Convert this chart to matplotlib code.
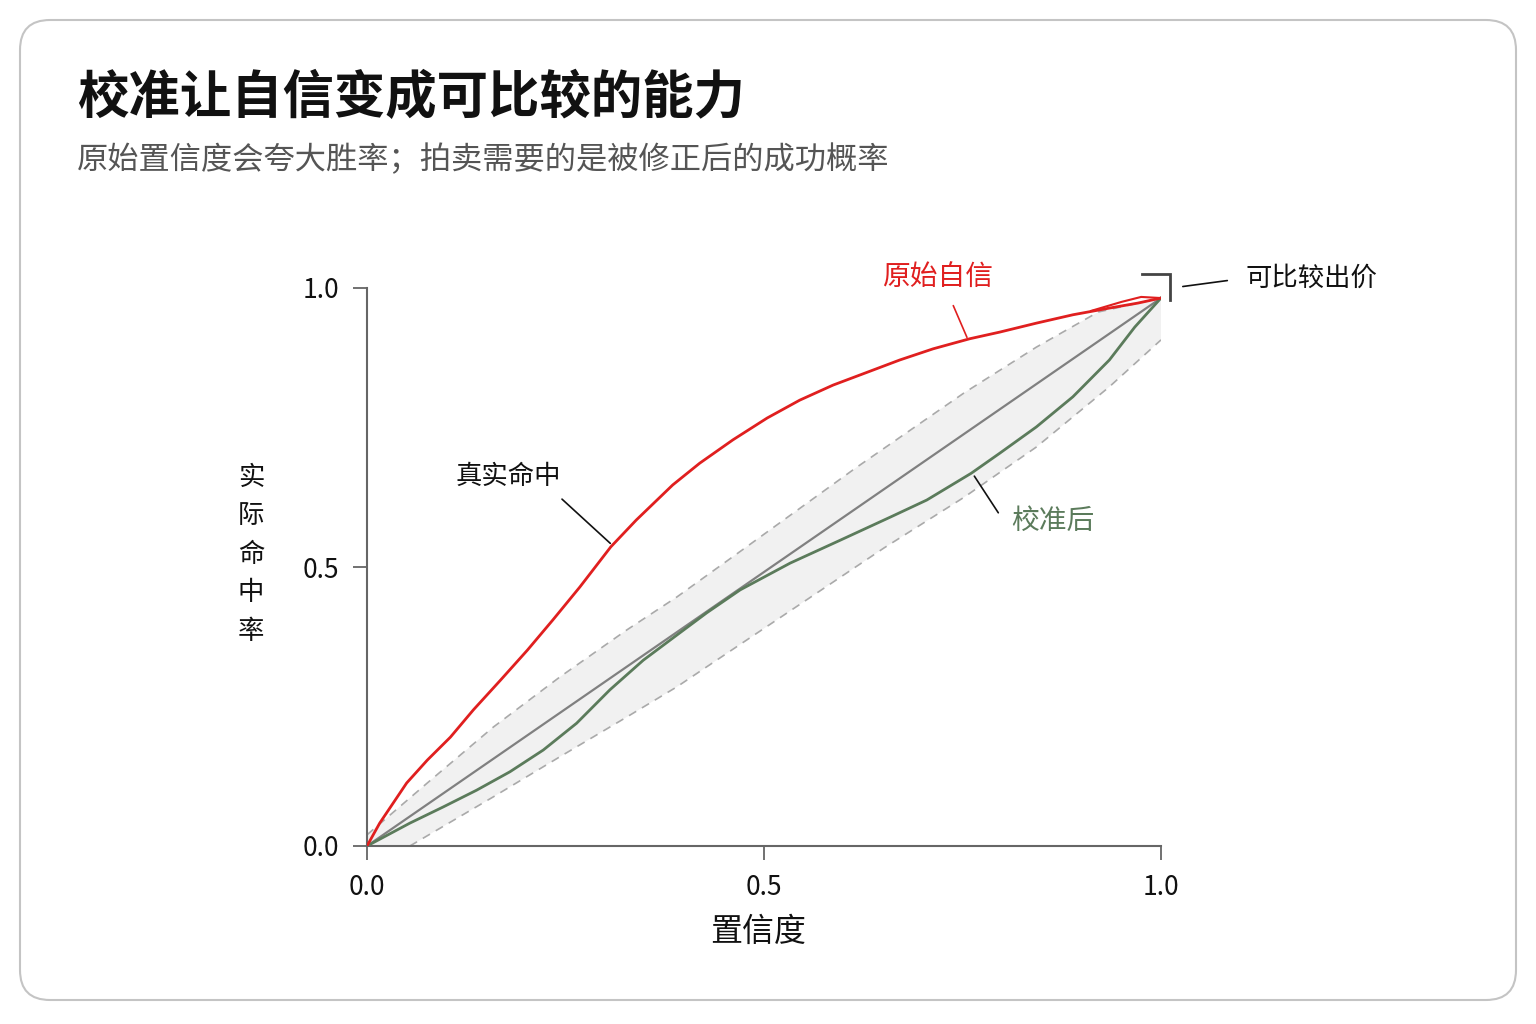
import numpy as np
import matplotlib
matplotlib.use("Agg")
import matplotlib.pyplot as plt
from matplotlib.patches import FancyBboxPatch

plt.rcParams['font.family'] = ['Noto Sans CJK SC', 'DejaVu Sans']

# 数据
raw_x = [0.0, 0.016, 0.033, 0.050, 0.076, 0.105, 0.134, 0.168, 0.202, 0.234, 0.268, 0.307,
         0.339, 0.385, 0.419, 0.461, 0.504, 0.545, 0.587, 0.630, 0.671, 0.713, 0.759, 0.797,
         0.843, 0.889, 0.935, 0.971, 1.0]
raw_y = [0.0, 0.041, 0.077, 0.113, 0.154, 0.195, 0.244, 0.297, 0.351, 0.405, 0.464, 0.536,
         0.584, 0.647, 0.686, 0.728, 0.767, 0.799, 0.826, 0.849, 0.871, 0.891, 0.909, 0.921,
         0.937, 0.952, 0.964, 0.973, 0.982]
# 末端多出的一小段红线
tail_x = [0.912, 0.95, 0.975, 1.0]
tail_y = [0.959, 0.975, 0.984, 0.982]

cal_x = [0.0, 0.054, 0.096, 0.138, 0.180, 0.222, 0.264, 0.306, 0.348, 0.394, 0.428, 0.470,
         0.533, 0.596, 0.660, 0.705, 0.761, 0.797, 0.843, 0.889, 0.935, 0.967, 1.0]
cal_y = [0.0, 0.041, 0.070, 0.100, 0.133, 0.172, 0.220, 0.280, 0.333, 0.382, 0.418, 0.459,
         0.507, 0.548, 0.590, 0.620, 0.668, 0.704, 0.751, 0.805, 0.871, 0.930, 0.982]

diag_x = [0.0, 1.0]
diag_y = [0.0, 0.982]

hi_x = [0.0, 0.076, 0.159, 0.243, 0.327, 0.390, 0.476, 0.615, 0.752, 0.843, 0.921, 1.0]
hi_y = [0.02, 0.113, 0.213, 0.303, 0.387, 0.446, 0.534, 0.677, 0.812, 0.894, 0.957, 0.982]
lo_x = [0.0, 0.054, 0.159, 0.243, 0.327, 0.390, 0.651, 0.752, 0.843, 0.935, 1.0]
lo_y = [0.0, 0.0, 0.088, 0.160, 0.231, 0.285, 0.534, 0.625, 0.715, 0.823, 0.907]

ticks = [0.0, 0.5, 1.0]
tick_labels = ["0.0", "0.5", "1.0"]

RED = "#e01f1f"
GREEN = "#5b7b5b"

fig = plt.figure(figsize=(15.36, 10.24), dpi=100)

# 卡片背景
bg = fig.add_axes([0, 0, 1, 1], zorder=-1)
bg.set_xlim(0, 1536)
bg.set_ylim(1024, 0)
bg.axis("off")
bg.add_patch(FancyBboxPatch((20, 20), 1496, 980, boxstyle="round,pad=0,rounding_size=30",
                            facecolor="white", edgecolor="#c4c4c4", linewidth=1.5))

fig.text(77 / 1536, 1 - 97 / 1024, "校准让自信变成可比较的能力", fontsize=37, fontweight="bold",
         color="#111111", va="center", ha="left")
fig.text(77 / 1536, 1 - 160 / 1024, "原始置信度会夸大胜率；拍卖需要的是被修正后的成功概率", fontsize=22.5,
         color="#555555", va="center", ha="left")

ax = fig.add_axes([367 / 1536, 1 - 846 / 1024, 794 / 1536, 558 / 1024])
ax.set_xlim(0, 1)
ax.set_ylim(0, 1)
ax.patch.set_alpha(0)

ax.fill(hi_x + lo_x[::-1], hi_y + lo_y[::-1], color="#f1f1f1", linewidth=0, zorder=1)
ax.plot(hi_x, hi_y, color="#aaaaaa", lw=1.2, ls=(0, (5, 4)), zorder=2)
ax.plot(lo_x[1:], lo_y[1:], color="#aaaaaa", lw=1.2, ls=(0, (5, 4)), zorder=2)
ax.plot(diag_x, diag_y, color="#808080", lw=1.6, zorder=3)
ax.plot(cal_x, cal_y, color=GREEN, lw=2.0, zorder=4, solid_joinstyle="round")
ax.plot(raw_x, raw_y, color=RED, lw=2.0, zorder=5, solid_joinstyle="round")
ax.plot(tail_x, tail_y, color=RED, lw=1.5, zorder=5)

for s in ["top", "right"]:
    ax.spines[s].set_visible(False)
for s in ["left", "bottom"]:
    ax.spines[s].set_color("#666666")
    ax.spines[s].set_linewidth(1.5)

ax.set_xticks(ticks)
ax.set_xticklabels(tick_labels)
ax.set_yticks(ticks)
ax.set_yticklabels(tick_labels)
ax.tick_params(length=10, width=1.3, color="#666666", labelsize=19, labelcolor="#111111", pad=10)

ax.set_xlabel("置信度", fontsize=23, color="#111111")
ax.xaxis.set_label_coords(0.492, -0.125)
ax.text(-0.146, 0.523, "实\n际\n命\n中\n率", transform=ax.transAxes, fontsize=19, color="#111111",
        ha="center", va="center", linespacing=1.55)

# 注释
ax.annotate("", xy=(0.757, 0.907), xytext=(0.737, 0.973),
            arrowprops=dict(arrowstyle="-", color=RED, lw=1.2), annotation_clip=False)
ax.text(0.719, 1.02, "原始自信", color=RED, fontsize=20, ha="center", va="center", clip_on=False)

ax.annotate("", xy=(0.309, 0.539), xytext=(0.243, 0.625),
            arrowprops=dict(arrowstyle="-", color="#111111", lw=1.2), annotation_clip=False)
ax.text(0.178, 0.663, "真实命中", color="#111111", fontsize=19, ha="center", va="center")

ax.annotate("", xy=(0.763, 0.667), xytext=(0.797, 0.593),
            arrowprops=dict(arrowstyle="-", color="#111111", lw=1.2), annotation_clip=False)
ax.text(0.864, 0.582, "校准后", color=GREEN, fontsize=20, ha="center", va="center")

ax.plot([0.976, 1.011, 1.011], [1.025, 1.025, 0.978], color="#444444", lw=2.0, clip_on=False,
        solid_joinstyle="miter")
ax.annotate("", xy=(1.087, 1.014), xytext=(1.024, 1.002),
            arrowprops=dict(arrowstyle="-", color="#111111", lw=1.2), annotation_clip=False)
ax.text(1.106, 1.018, "可比较出价", color="#111111", fontsize=19, ha="left", va="center", clip_on=False)

fig.savefig("out.png", dpi=100)
